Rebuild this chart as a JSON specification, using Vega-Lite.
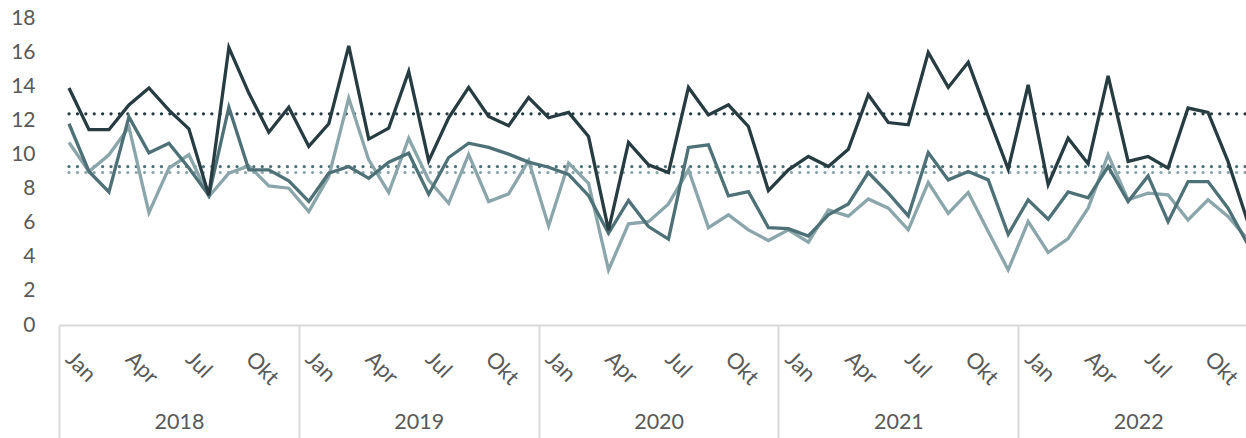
{
  "$schema": "https://vega.github.io/schema/vega-lite/v6.json",
  "width": 1187,
  "height": 307,
  "autosize": {"type": "none"},
  "padding": {"left": 59, "top": 18, "right": 0, "bottom": 113},
  "background": "white",
  "config": {
    "view": {"stroke": null},
    "font": "Lato",
    "axis": {"labelFont": "Lato", "labelColor": "#595959", "labelFontSize": 21, "title": null, "grid": false},
    "axisY": {"labelOverlap": false, "labelFlush": false, "labelBound": false}
  },
  "datasets": {
    "avg": [
      {"s": "Serie 3", "avg": 8.94},
      {"s": "Serie 2", "avg": 9.29},
      {"s": "Serie 1", "avg": 12.38}
    ],
    "monthly": [
      {"t": 0, "s": "Serie 3", "v": 10.7}, {"t": 1, "s": "Serie 3", "v": 9.0}, {"t": 2, "s": "Serie 3", "v": 9.98}, {"t": 3, "s": "Serie 3", "v": 11.6},
      {"t": 4, "s": "Serie 3", "v": 6.59}, {"t": 5, "s": "Serie 3", "v": 9.2}, {"t": 6, "s": "Serie 3", "v": 9.98}, {"t": 7, "s": "Serie 3", "v": 7.53},
      {"t": 8, "s": "Serie 3", "v": 8.9}, {"t": 9, "s": "Serie 3", "v": 9.33}, {"t": 10, "s": "Serie 3", "v": 8.16}, {"t": 11, "s": "Serie 3", "v": 8.02},
      {"t": 12, "s": "Serie 3", "v": 6.65}, {"t": 13, "s": "Serie 3", "v": 8.7}, {"t": 14, "s": "Serie 3", "v": 13.3}, {"t": 15, "s": "Serie 3", "v": 9.68},
      {"t": 16, "s": "Serie 3", "v": 7.77}, {"t": 17, "s": "Serie 3", "v": 10.95}, {"t": 18, "s": "Serie 3", "v": 8.5}, {"t": 19, "s": "Serie 3", "v": 7.14},
      {"t": 20, "s": "Serie 3", "v": 10.0}, {"t": 21, "s": "Serie 3", "v": 7.24}, {"t": 22, "s": "Serie 3", "v": 7.69}, {"t": 23, "s": "Serie 3", "v": 9.64},
      {"t": 24, "s": "Serie 3", "v": 5.81}, {"t": 25, "s": "Serie 3", "v": 9.49}, {"t": 26, "s": "Serie 3", "v": 8.31}, {"t": 27, "s": "Serie 3", "v": 3.23},
      {"t": 28, "s": "Serie 3", "v": 5.93}, {"t": 29, "s": "Serie 3", "v": 6.06}, {"t": 30, "s": "Serie 3", "v": 7.1}, {"t": 31, "s": "Serie 3", "v": 9.1},
      {"t": 32, "s": "Serie 3", "v": 5.71}, {"t": 33, "s": "Serie 3", "v": 6.46}, {"t": 34, "s": "Serie 3", "v": 5.58}, {"t": 35, "s": "Serie 3", "v": 4.95},
      {"t": 36, "s": "Serie 3", "v": 5.58}, {"t": 37, "s": "Serie 3", "v": 4.86}, {"t": 38, "s": "Serie 3", "v": 6.75}, {"t": 39, "s": "Serie 3", "v": 6.38},
      {"t": 40, "s": "Serie 3", "v": 7.39}, {"t": 41, "s": "Serie 3", "v": 6.85}, {"t": 42, "s": "Serie 3", "v": 5.58}, {"t": 43, "s": "Serie 3", "v": 8.35},
      {"t": 44, "s": "Serie 3", "v": 6.55}, {"t": 45, "s": "Serie 3", "v": 7.77}, {"t": 46, "s": "Serie 3", "v": 5.48}, {"t": 47, "s": "Serie 3", "v": 3.23},
      {"t": 48, "s": "Serie 3", "v": 6.06}, {"t": 49, "s": "Serie 3", "v": 4.25}, {"t": 50, "s": "Serie 3", "v": 5.07}, {"t": 51, "s": "Serie 3", "v": 6.85},
      {"t": 52, "s": "Serie 3", "v": 9.98}, {"t": 53, "s": "Serie 3", "v": 7.34}, {"t": 54, "s": "Serie 3", "v": 7.73}, {"t": 55, "s": "Serie 3", "v": 7.63},
      {"t": 56, "s": "Serie 3", "v": 6.16}, {"t": 57, "s": "Serie 3", "v": 7.34}, {"t": 58, "s": "Serie 3", "v": 6.36}, {"t": 59, "s": "Serie 3", "v": 5.0},

      {"t": 0, "s": "Serie 2", "v": 11.8}, {"t": 1, "s": "Serie 2", "v": 9.0}, {"t": 2, "s": "Serie 2", "v": 7.8}, {"t": 3, "s": "Serie 2", "v": 12.2},
      {"t": 4, "s": "Serie 2", "v": 10.1}, {"t": 5, "s": "Serie 2", "v": 10.66}, {"t": 6, "s": "Serie 2", "v": 9.2}, {"t": 7, "s": "Serie 2", "v": 7.6},
      {"t": 8, "s": "Serie 2", "v": 12.77}, {"t": 9, "s": "Serie 2", "v": 9.1}, {"t": 10, "s": "Serie 2", "v": 9.1}, {"t": 11, "s": "Serie 2", "v": 8.45},
      {"t": 12, "s": "Serie 2", "v": 7.24}, {"t": 13, "s": "Serie 2", "v": 8.9}, {"t": 14, "s": "Serie 2", "v": 9.29}, {"t": 15, "s": "Serie 2", "v": 8.6},
      {"t": 16, "s": "Serie 2", "v": 9.55}, {"t": 17, "s": "Serie 2", "v": 10.07}, {"t": 18, "s": "Serie 2", "v": 7.67}, {"t": 19, "s": "Serie 2", "v": 9.82},
      {"t": 20, "s": "Serie 2", "v": 10.66}, {"t": 21, "s": "Serie 2", "v": 10.41}, {"t": 22, "s": "Serie 2", "v": 10.02}, {"t": 23, "s": "Serie 2", "v": 9.55},
      {"t": 24, "s": "Serie 2", "v": 9.25}, {"t": 25, "s": "Serie 2", "v": 8.83}, {"t": 26, "s": "Serie 2", "v": 7.58}, {"t": 27, "s": "Serie 2", "v": 5.38},
      {"t": 28, "s": "Serie 2", "v": 7.3}, {"t": 29, "s": "Serie 2", "v": 5.77}, {"t": 30, "s": "Serie 2", "v": 5.03}, {"t": 31, "s": "Serie 2", "v": 10.41},
      {"t": 32, "s": "Serie 2", "v": 10.56}, {"t": 33, "s": "Serie 2", "v": 7.57}, {"t": 34, "s": "Serie 2", "v": 7.82}, {"t": 35, "s": "Serie 2", "v": 5.71},
      {"t": 36, "s": "Serie 2", "v": 5.65}, {"t": 37, "s": "Serie 2", "v": 5.22}, {"t": 38, "s": "Serie 2", "v": 6.46}, {"t": 39, "s": "Serie 2", "v": 7.1},
      {"t": 40, "s": "Serie 2", "v": 8.94}, {"t": 41, "s": "Serie 2", "v": 7.73}, {"t": 42, "s": "Serie 2", "v": 6.4}, {"t": 43, "s": "Serie 2", "v": 10.11},
      {"t": 44, "s": "Serie 2", "v": 8.51}, {"t": 45, "s": "Serie 2", "v": 9.0}, {"t": 46, "s": "Serie 2", "v": 8.51}, {"t": 47, "s": "Serie 2", "v": 5.32},
      {"t": 48, "s": "Serie 2", "v": 7.34}, {"t": 49, "s": "Serie 2", "v": 6.2}, {"t": 50, "s": "Serie 2", "v": 7.8}, {"t": 51, "s": "Serie 2", "v": 7.45},
      {"t": 52, "s": "Serie 2", "v": 9.29}, {"t": 53, "s": "Serie 2", "v": 7.24}, {"t": 54, "s": "Serie 2", "v": 8.74}, {"t": 55, "s": "Serie 2", "v": 6.06},
      {"t": 56, "s": "Serie 2", "v": 8.41}, {"t": 57, "s": "Serie 2", "v": 8.41}, {"t": 58, "s": "Serie 2", "v": 6.85}, {"t": 59, "s": "Serie 2", "v": 4.7},

      {"t": 0, "s": "Serie 1", "v": 13.9}, {"t": 1, "s": "Serie 1", "v": 11.45}, {"t": 2, "s": "Serie 1", "v": 11.45}, {"t": 3, "s": "Serie 1", "v": 12.9},
      {"t": 4, "s": "Serie 1", "v": 13.9}, {"t": 5, "s": "Serie 1", "v": 12.6}, {"t": 6, "s": "Serie 1", "v": 11.5}, {"t": 7, "s": "Serie 1", "v": 7.6},
      {"t": 8, "s": "Serie 1", "v": 16.27}, {"t": 9, "s": "Serie 1", "v": 13.6}, {"t": 10, "s": "Serie 1", "v": 11.3}, {"t": 11, "s": "Serie 1", "v": 12.77},
      {"t": 12, "s": "Serie 1", "v": 10.47}, {"t": 13, "s": "Serie 1", "v": 11.8}, {"t": 14, "s": "Serie 1", "v": 16.37}, {"t": 15, "s": "Serie 1", "v": 10.9},
      {"t": 16, "s": "Serie 1", "v": 11.54}, {"t": 17, "s": "Serie 1", "v": 14.87}, {"t": 18, "s": "Serie 1", "v": 9.62}, {"t": 19, "s": "Serie 1", "v": 12.15},
      {"t": 20, "s": "Serie 1", "v": 13.93}, {"t": 21, "s": "Serie 1", "v": 12.23}, {"t": 22, "s": "Serie 1", "v": 11.68}, {"t": 23, "s": "Serie 1", "v": 13.34},
      {"t": 24, "s": "Serie 1", "v": 12.15}, {"t": 25, "s": "Serie 1", "v": 12.46}, {"t": 26, "s": "Serie 1", "v": 11.05}, {"t": 27, "s": "Serie 1", "v": 5.56},
      {"t": 28, "s": "Serie 1", "v": 10.7}, {"t": 29, "s": "Serie 1", "v": 9.39}, {"t": 30, "s": "Serie 1", "v": 8.94}, {"t": 31, "s": "Serie 1", "v": 13.93},
      {"t": 32, "s": "Serie 1", "v": 12.32}, {"t": 33, "s": "Serie 1", "v": 12.91}, {"t": 34, "s": "Serie 1", "v": 11.64}, {"t": 35, "s": "Serie 1", "v": 7.88},
      {"t": 36, "s": "Serie 1", "v": 9.1}, {"t": 37, "s": "Serie 1", "v": 9.88}, {"t": 38, "s": "Serie 1", "v": 9.29}, {"t": 39, "s": "Serie 1", "v": 10.3},
      {"t": 40, "s": "Serie 1", "v": 13.5}, {"t": 41, "s": "Serie 1", "v": 11.87}, {"t": 42, "s": "Serie 1", "v": 11.74}, {"t": 43, "s": "Serie 1", "v": 15.98},
      {"t": 44, "s": "Serie 1", "v": 13.93}, {"t": 45, "s": "Serie 1", "v": 15.4}, {"t": 46, "s": "Serie 1", "v": 12.23}, {"t": 47, "s": "Serie 1", "v": 9.14},
      {"t": 48, "s": "Serie 1", "v": 14.08}, {"t": 49, "s": "Serie 1", "v": 8.24}, {"t": 50, "s": "Serie 1", "v": 10.95}, {"t": 51, "s": "Serie 1", "v": 9.46},
      {"t": 52, "s": "Serie 1", "v": 14.61}, {"t": 53, "s": "Serie 1", "v": 9.59}, {"t": 54, "s": "Serie 1", "v": 9.88}, {"t": 55, "s": "Serie 1", "v": 9.2},
      {"t": 56, "s": "Serie 1", "v": 12.72}, {"t": 57, "s": "Serie 1", "v": 12.46}, {"t": 58, "s": "Serie 1", "v": 9.59}, {"t": 59, "s": "Serie 1", "v": 6.0}
    ]
  },
  "layer": [
    {
      "data": {"name": "avg"},
      "mark": {"type": "rule", "strokeWidth": 3.2, "strokeDash": [0.1, 8.3], "strokeCap": "round", "clip": true},
      "encoding": {
        "x": {
          "datum": 0,
          "type": "quantitative",
          "scale": {"domain": [-0.5, 58.9], "nice": false, "zero": false},
          "axis": {
            "orient": "bottom",
            "values": [-0.5, 11.5, 23.5, 35.5, 47.5],
            "domain": false,
            "ticks": true,
            "tickSize": 113,
            "tickColor": "#d9d9d9",
            "tickWidth": 2,
            "labelExpr": "'' + (2018 + round((datum.value + 0.5) / 12))",
            "labelOffset": 120,
            "labelPadding": -27,
            "labelBaseline": "top",
            "labelAlign": "center",
            "labelAngle": 0,
            "labelFlush": false,
            "labelOverlap": false,
            "labelBound": false,
            "labelFontSize": 21.5
          }
        },
        "x2": {"datum": 59},
        "y": {
          "field": "avg",
          "type": "quantitative",
          "scale": {"domain": [0, 18], "nice": false, "zero": true},
          "axis": {"values": [0, 2, 4, 6, 8, 10, 12, 14, 16, 18], "domain": false, "ticks": false, "labelPadding": 24, "labelFontSize": 21, "labelOverlap": false, "labelFlush": false, "labelBound": false}
        },
        "color": {"field": "s", "type": "nominal", "scale": {"domain": ["Serie 1", "Serie 2", "Serie 3"], "range": ["#263c40", "#4d7177", "#8aa6aa"]}, "legend": null}
      }
    },
    {
      "data": {"name": "monthly"},
      "mark": {"type": "line", "strokeWidth": 3.3, "clip": true, "strokeJoin": "miter"},
      "encoding": {
        "x": {
          "field": "t",
          "type": "quantitative",
          "scale": {"domain": [-0.5, 58.9], "nice": false, "zero": false},
          "axis": {
            "orient": "bottom",
            "values": [0, 3, 6, 9, 12, 15, 18, 21, 24, 27, 30, 33, 36, 39, 42, 45, 48, 51, 54, 57],
            "labelExpr": "datum.value % 12 == 0 ? 'Jan' : datum.value % 12 == 3 ? 'Apr' : datum.value % 12 == 6 ? 'Jul' : 'Okt'",
            "labelAngle": 45,
            "labelAlign": "left",
            "labelBaseline": "middle",
            "labelPadding": 30,
            "ticks": false,
            "domain": true,
            "domainColor": "#d9d9d9",
            "domainWidth": 2,
            "labelFlush": false,
            "labelOverlap": false,
            "labelBound": false,
            "labelFontSize": 22
          }
        },
        "y": {
          "field": "v",
          "type": "quantitative",
          "scale": {"domain": [0, 18], "nice": false, "zero": true},
          "axis": {"values": [0, 2, 4, 6, 8, 10, 12, 14, 16, 18], "domain": false, "ticks": false, "labelPadding": 24, "labelFontSize": 21, "labelOverlap": false, "labelFlush": false, "labelBound": false}
        },
        "color": {"field": "s", "type": "nominal", "scale": {"domain": ["Serie 1", "Serie 2", "Serie 3"], "range": ["#263c40", "#4d7177", "#8aa6aa"]}, "legend": null},
        "order": {"field": "t", "type": "quantitative"}
      }
    }
  ],
  "resolve": {"axis": {"x": "independent"}}
}
